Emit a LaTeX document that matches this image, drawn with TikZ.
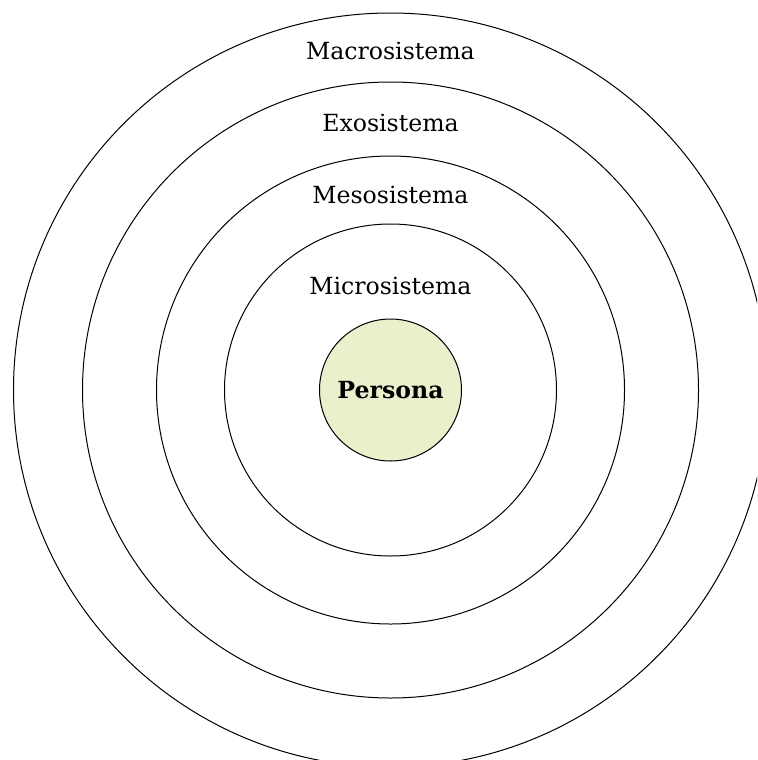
\documentclass[tikz,border=0pt]{standalone}
\usepackage{fontspec}
\setmainfont{DejaVu Serif}
\begin{document}
\begin{tikzpicture}[x=0.5pt,y=-0.5pt,
  ring/.style={draw=black,line width=0.5pt},
  lbl/.style={anchor=base,inner sep=0pt,font=\fontsize{11.8}{14}\selectfont},
  core/.style={circle,draw=black,line width=0.5pt,fill=personafill,minimum size=71pt,inner sep=0pt,font=\fontsize{11.8}{14}\selectfont\bfseries}]
\definecolor{personafill}{RGB}{234,240,204}
\useasboundingbox (0,0) rectangle (757,760);
\clip (0,0) rectangle (757,760);
\coordinate (c) at (390.5,390);
\draw[ring] (c) circle[radius=377];
\draw[ring] (c) circle[radius=308];
\draw[ring] (c) circle[radius=234];
\draw[ring] (c) circle[radius=166];
\node[core] (persona) at (c) {Persona};
\node[lbl] (macro) at (390.5,59) {Macrosistema};
\node[lbl] (exo) at (390.5,131) {Exosistema};
\node[lbl] (meso) at (390.5,203) {Mesosistema};
\node[lbl] (micro) at (390.5,294) {Microsistema};
\end{tikzpicture}
\end{document}
